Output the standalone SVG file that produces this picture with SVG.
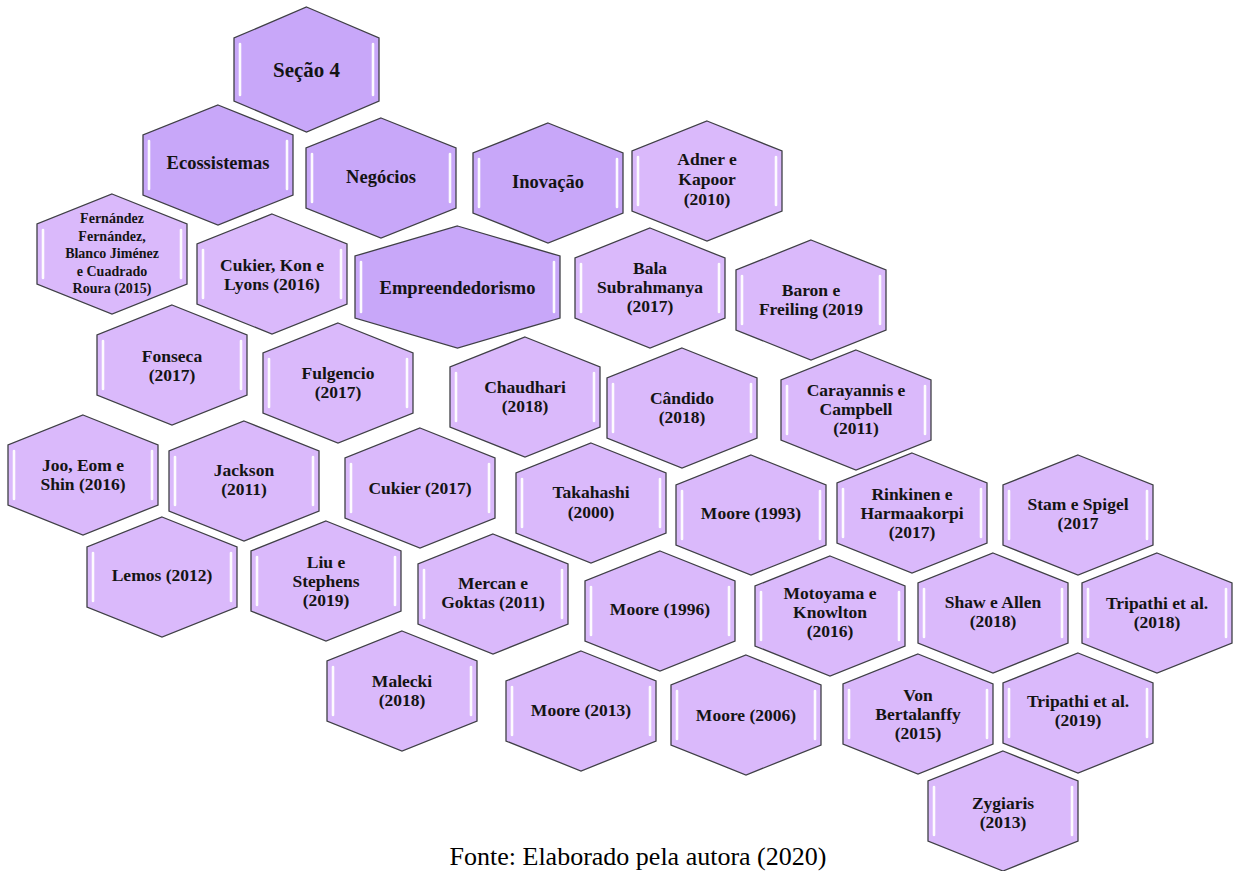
<svg xmlns="http://www.w3.org/2000/svg" xmlns:xlink="http://www.w3.org/1999/xlink" width="1233" height="871" viewBox="0 0 1233 871">
<style>
.ref{fill:#dab9fb}
.cat{fill:#c8a7f9}
.hx{stroke:#3f3f46;stroke-width:1.3;stroke-linejoin:miter}
.hl{stroke:#ffffff;stroke-width:2.6;stroke-linecap:round;opacity:0.95}
.t{font-family:"Liberation Serif","Times New Roman",serif;font-weight:bold;font-size:17.5px;fill:#141414;text-anchor:middle}
.big{font-size:18.5px}
.small{font-size:14px}
.cap{font-family:"Liberation Serif","Times New Roman",serif;font-size:26px;fill:#000;text-anchor:middle}
</style>
<defs>
<symbol id="hex" overflow="visible">
<polygon class="hx" points="75,0 150,30 150,90 75,120 0,90 0,30"/>
<line class="hl" x1="6" y1="36" x2="6" y2="84"/>
<line class="hl" x1="144" y1="36" x2="144" y2="84"/>
</symbol>
</defs>
<rect width="1233" height="871" fill="#ffffff"/>
<g id="connectors"></g>

<g id="secao4"><polygon class="hx cat" points="306.5,7 379,38 379,101 306.5,132 234,101 234,38"/><line class="hl" x1="240" y1="44" x2="240" y2="95"/><line class="hl" x1="373" y1="44" x2="373" y2="95"/><text class="t" style="font-size:21px" x="306.5" y="77">Seção 4</text></g>
<g id="ecossistemas"><use href="#hex" class="cat" x="143" y="105"/><text class="t big" x="218" y="169">Ecossistemas</text></g>
<g id="negocios"><use href="#hex" class="cat" x="306" y="118"/><text class="t big" x="381" y="183">Negócios</text></g>
<g id="inovacao"><use href="#hex" class="cat" x="473" y="123"/><text class="t big" x="548" y="188">Inovação</text></g>
<g id="adner"><use href="#hex" class="ref" x="632" y="121"/><text class="t" x="707" y="165">Adner e</text><text class="t" x="707" y="185">Kapoor</text><text class="t" x="707" y="205">(2010)</text></g>
<g id="fernandez"><use href="#hex" class="ref" x="37" y="194"/><text class="t small" x="112" y="223">Fernández</text><text class="t small" x="112" y="241">Fernández,</text><text class="t small" x="112" y="258">Blanco Jiménez</text><text class="t small" x="112" y="276">e Cuadrado</text><text class="t small" x="112" y="293">Roura (2015)</text></g>
<g id="cukierkonlyons"><use href="#hex" class="ref" x="197" y="214"/><text class="t" x="272" y="271">Cukier, Kon e</text><text class="t" x="272" y="290">Lyons (2016)</text></g>
<g id="empreendedorismo"><polygon class="hx cat" points="457.5,226 560,256 560,318 457.5,348 355,318 355,256"/><line class="hl" x1="361" y1="262" x2="361" y2="312"/><line class="hl" x1="554" y1="262" x2="554" y2="312"/><text class="t big" x="457.5" y="294">Empreendedorismo</text></g>
<g id="bala"><use href="#hex" class="ref" x="575" y="228"/><text class="t" x="650" y="274">Bala</text><text class="t" x="650" y="293">Subrahmanya</text><text class="t" x="650" y="312">(2017)</text></g>
<g id="baron"><use href="#hex" class="ref" x="736" y="240"/><text class="t" x="811" y="296">Baron e</text><text class="t" x="811" y="315">Freiling (2019</text></g>
<g id="fonseca"><use href="#hex" class="ref" x="97" y="305"/><text class="t" x="172" y="362">Fonseca</text><text class="t" x="172" y="381">(2017)</text></g>
<g id="fulgencio"><use href="#hex" class="ref" x="263" y="323"/><text class="t" x="338" y="379">Fulgencio</text><text class="t" x="338" y="398">(2017)</text></g>
<g id="chaudhari"><use href="#hex" class="ref" x="450" y="337"/><text class="t" x="525" y="393">Chaudhari</text><text class="t" x="525" y="412">(2018)</text></g>
<g id="candido"><use href="#hex" class="ref" x="607" y="348"/><text class="t" x="682" y="404">Cândido</text><text class="t" x="682" y="423">(2018)</text></g>
<g id="carayannis"><use href="#hex" class="ref" x="781" y="350"/><text class="t" x="856" y="396">Carayannis e</text><text class="t" x="856" y="415">Campbell</text><text class="t" x="856" y="434">(2011)</text></g>
<g id="joo"><use href="#hex" class="ref" x="8" y="415"/><text class="t" x="83" y="471">Joo, Eom e</text><text class="t" x="83" y="490">Shin (2016)</text></g>
<g id="jackson"><use href="#hex" class="ref" x="169" y="421"/><text class="t" x="244" y="476">Jackson</text><text class="t" x="244" y="495">(2011)</text></g>
<g id="cukier2017"><use href="#hex" class="ref" x="345" y="428"/><text class="t" x="420" y="494">Cukier (2017)</text></g>
<g id="takahashi"><use href="#hex" class="ref" x="516" y="443"/><text class="t" x="591" y="498">Takahashi</text><text class="t" x="591" y="518">(2000)</text></g>
<g id="moore1993"><use href="#hex" class="ref" x="676" y="455"/><text class="t" x="751" y="519">Moore (1993)</text></g>
<g id="rinkinen"><use href="#hex" class="ref" x="837" y="453"/><text class="t" x="912" y="500">Rinkinen e</text><text class="t" x="912" y="519">Harmaakorpi</text><text class="t" x="912" y="538">(2017)</text></g>
<g id="stam"><use href="#hex" class="ref" x="1003" y="455"/><text class="t" x="1078" y="510">Stam e Spigel</text><text class="t" x="1078" y="529">(2017</text></g>
<g id="lemos"><use href="#hex" class="ref" x="87" y="517"/><text class="t" x="162" y="581">Lemos (2012)</text></g>
<g id="liu"><use href="#hex" class="ref" x="251" y="521"/><text class="t" x="326" y="568">Liu e</text><text class="t" x="326" y="587">Stephens</text><text class="t" x="326" y="606">(2019)</text></g>
<g id="mercan"><use href="#hex" class="ref" x="418" y="534"/><text class="t" x="493" y="589">Mercan e</text><text class="t" x="493" y="608">Goktas (2011)</text></g>
<g id="moore1996"><use href="#hex" class="ref" x="585" y="551"/><text class="t" x="660" y="615">Moore (1996)</text></g>
<g id="motoyama"><use href="#hex" class="ref" x="755" y="556"/><text class="t" x="830" y="599">Motoyama e</text><text class="t" x="830" y="618">Knowlton</text><text class="t" x="830" y="637">(2016)</text></g>
<g id="shaw"><use href="#hex" class="ref" x="918" y="553"/><text class="t" x="993" y="608">Shaw e Allen</text><text class="t" x="993" y="627">(2018)</text></g>
<g id="tripathi2018"><use href="#hex" class="ref" x="1082" y="553"/><text class="t" x="1157" y="609">Tripathi et al.</text><text class="t" x="1157" y="628">(2018)</text></g>
<g id="malecki"><use href="#hex" class="ref" x="327" y="631"/><text class="t" x="402" y="687">Malecki</text><text class="t" x="402" y="706">(2018)</text></g>
<g id="moore2013"><use href="#hex" class="ref" x="506" y="651"/><text class="t" x="581" y="716">Moore (2013)</text></g>
<g id="moore2006"><use href="#hex" class="ref" x="671" y="655"/><text class="t" x="746" y="721">Moore (2006)</text></g>
<g id="vonbertalanffy"><use href="#hex" class="ref" x="843" y="654"/><text class="t" x="918" y="701">Von</text><text class="t" x="918" y="720">Bertalanffy</text><text class="t" x="918" y="739">(2015)</text></g>
<g id="tripathi2019"><use href="#hex" class="ref" x="1003" y="653"/><text class="t" x="1078" y="707">Tripathi et al.</text><text class="t" x="1078" y="726">(2019)</text></g>
<g id="zygiaris"><use href="#hex" class="ref" x="928" y="751"/><text class="t" x="1003" y="809">Zygiaris</text><text class="t" x="1003" y="828">(2013)</text></g>

<text class="cap" x="638" y="865">Fonte: Elaborado pela autora (2020)</text>
</svg>
